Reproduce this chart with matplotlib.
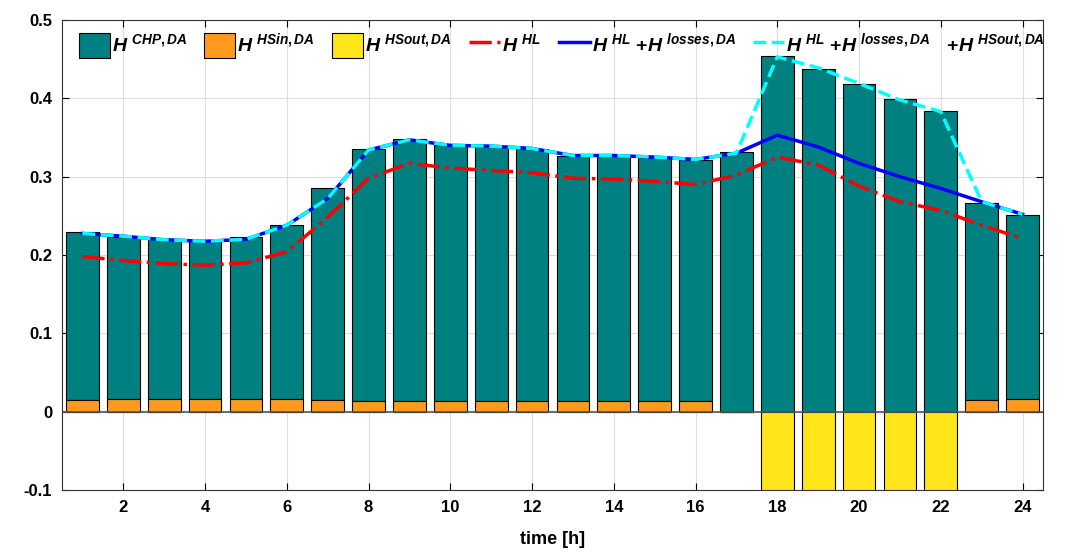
import numpy as np
import matplotlib
matplotlib.use("Agg")
import matplotlib.pyplot as pl

pl.rc("font", family="Liberation Sans", weight="bold", size=12)
pl.rc("mathtext", fontset="custom", it="Liberation Sans:italic:bold",
      rm="Liberation Sans:bold", bf="Liberation Sans:bold")

hours = np.arange(1, 25)

total_bar = [0.229, 0.2225, 0.220, 0.219, 0.2225, 0.238, 0.285, 0.335,
             0.348, 0.341, 0.339, 0.335, 0.327, 0.327, 0.3235, 0.321,
             0.332, 0.454, 0.437, 0.418, 0.399, 0.384, 0.267, 0.251]
h_hsin = [0.0145, 0.016, 0.016, 0.016, 0.016, 0.016, 0.015, 0.014,
          0.0135, 0.0135, 0.0135, 0.0135, 0.0135, 0.0135, 0.0135, 0.0135,
          0.0, 0.0, 0.0, 0.0, 0.0, 0.0, 0.015, 0.016]
h_hsout = [0, 0, 0, 0, 0, 0, 0, 0, 0, 0, 0, 0, 0, 0, 0, 0,
           0, -0.105, -0.105, -0.105, -0.105, -0.105, 0, 0]
h_hl = [0.198, 0.193, 0.189, 0.187, 0.190, 0.204, 0.248, 0.298,
        0.317, 0.311, 0.308, 0.305, 0.298, 0.297, 0.294, 0.290,
        0.302, 0.325, 0.315, 0.288, 0.268, 0.257, 0.238, 0.221]
h_hl_loss = [0.2275, 0.224, 0.2195, 0.2175, 0.220, 0.238, 0.272, 0.334,
             0.347, 0.340, 0.339, 0.336, 0.327, 0.327, 0.325, 0.322,
             0.330, 0.353, 0.338, 0.317, 0.300, 0.285, 0.268, 0.252]
h_hl_loss_out = [0.2275, 0.224, 0.2195, 0.2175, 0.220, 0.238, 0.272, 0.334,
                 0.347, 0.340, 0.339, 0.336, 0.327, 0.327, 0.325, 0.322,
                 0.330, 0.453, 0.439, 0.419, 0.398, 0.383, 0.268, 0.252]

h_chp = np.array(total_bar) - np.array(h_hsin)

fig = pl.figure(figsize=(10.76, 5.53), dpi=100)
ax = fig.add_axes([0.0576, 0.1139, 0.9117, 0.8499])

b_chp = ax.bar(hours, h_chp, 0.8, bottom=h_hsin, color="#008080",
               edgecolor="black", linewidth=0.8, zorder=2,
               label=r"$H^{\ CHP,DA}$")
b_in = ax.bar(hours, h_hsin, 0.8, color="#FF9A1E", edgecolor="black",
              linewidth=0.8, zorder=2, label=r"$H^{\ HSin,DA}$")
b_out = ax.bar(hours, h_hsout, 0.8, color="#FFE61A", edgecolor="black",
               linewidth=0.8, zorder=2, label=r"$H^{\ HSout,DA}$")

l_hl, = ax.plot(hours, h_hl, color="red", ls="-.", lw=2.5, zorder=3,
                label=r"$H^{\ HL}$")
l_loss, = ax.plot(hours, h_hl_loss, color="blue", lw=2.5, zorder=3,
                  label=r"$H^{\ HL}\ \mathrm{+}H^{\ losses,DA}$")
l_out, = ax.plot(hours, h_hl_loss_out, color="cyan", ls="--", lw=2.5,
                 zorder=4,
                 label=r"$H^{\ HL}\ \mathrm{+}H^{\ losses,DA}\ \ \ \mathrm{+}H^{\ HSout,DA}$")

ax.axhline(0, color="#555555", lw=1.2, zorder=2.5)

ax.set_xlim(0.5, 24.5)
ax.set_ylim(-0.1, 0.5)
ax.set_xticks(np.arange(2, 25, 2))
ax.set_yticks(np.arange(-0.1, 0.51, 0.1))
ax.yaxis.set_major_formatter(pl.FuncFormatter(lambda v, p: "%g" % round(v, 2)))
ax.tick_params(direction="in", top=True, right=True, length=5,
               labelsize=12, pad=7)
ax.grid(True, color="#DDDDDD", lw=0.8, zorder=0)
ax.set_axisbelow(True)
for s in ax.spines.values():
    s.set_color("#333333")
ax.set_xlabel("time [h]", fontsize=13, fontweight="bold", labelpad=12)

ax.legend(handles=[b_chp, b_in, b_out, l_hl, l_loss, l_out], ncol=6,
          loc="upper left", bbox_to_anchor=(0.005, 1.0), frameon=False,
          fontsize=14, handlelength=1.6, handleheight=1.6,
          columnspacing=0.9, handletextpad=0.1, borderaxespad=0.2)

fig.savefig("out.png", dpi=100)
